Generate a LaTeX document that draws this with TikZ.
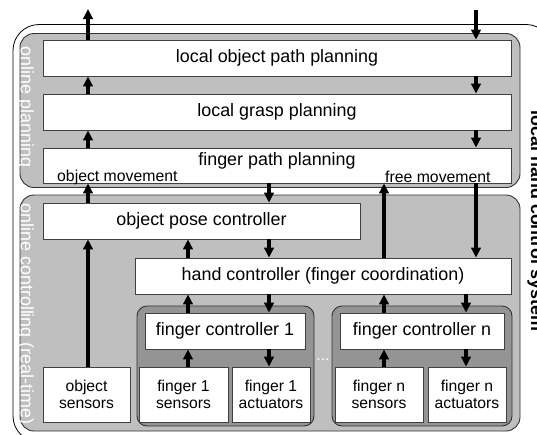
\documentclass[tikz,border=0pt]{standalone}
\usepackage{fontspec}
\setmainfont{Liberation Sans}
\usepackage{tikz}
\usetikzlibrary{arrows.meta, positioning}
\newcommand{\blockfont}{\fontsize{17.9}{19}\selectfont}
\newcommand{\sensorfont}{\fontsize{15.7}{17.5}\selectfont}
\newcommand{\smallfont}{\fontsize{15.8}{17}\selectfont}
\tikzset{
    stage/.style={rectangle, draw=black!80, fill=black!25, rounded corners=14pt, line width=0.9pt},
    group/.style={rectangle, draw=black!80, fill=black!42, rounded corners=10pt, line width=0.9pt, minimum height=120pt},
    block/.style={rectangle, draw=black!75, fill=white, inner sep=0pt, minimum height=36pt, font=\blockfont, line width=0.8pt},
    sensor/.style={rectangle, draw=black!75, fill=white, inner sep=0pt, minimum height=55pt, align=center, font=\sensorfont, line width=0.8pt},
    arrow/.style={-{Triangle[length=10pt,width=9.5pt]}, line width=3.4pt},
    flowlabel/.style={font=\smallfont, inner sep=0pt},
    stagelabel/.style={rotate=-90, text=white, font=\blockfont, inner sep=0pt},
}
\begin{document}
\begin{tikzpicture}[x=1pt, y=-1pt]
        \useasboundingbox (0,0) rectangle (537,434);
        % Outer frame
        \draw [line width=0.8pt, rounded corners=26pt, fill=white] (13,24.5) rectangle (552,442);
        \node [rotate=-90, anchor=base, font=\blockfont\bfseries, inner sep=0pt] (system) at (531,221) {local hand control system};

        % Stages
        \node [stage, minimum width=500pt, minimum height=154pt] (planning) at (270,110.5) {};
        \node [stage, minimum width=500pt, minimum height=236pt] (controlling) at (270,313) {};
        \node [stagelabel] (planninglabel) at (25.5,107) {online planning};
        \node [stagelabel] (controllinglabel) at (25.5,314) {online controlling (real-time)};

        % Planning nodes
        \node [block, minimum width=468pt] (objpath) at (277,58) {local object path planning};
        \node [block, minimum width=468pt] (grasp) at (277,112) {local grasp planning};
        \node [block, minimum width=468pt, minimum height=35pt] (fingerpath) at (277,165.5) {};
        \node [font=\blockfont, inner sep=0pt] (fingerpathtext) at (277,161) {finger path planning};
        \node [flowlabel, anchor=west] (objmove) at (57,177) {object movement};
        \node [flowlabel, anchor=west] (freemove) at (385,176.5) {free movement};

        % Controlling nodes
        \node [block, minimum width=317pt] (posectrl) at (201.5,221) {object pose controller};
        \node [block, minimum width=376pt] (handctrl) at (323,276) {hand controller (finger coordination)};
        \node [group, minimum width=177pt] (group1) at (225.5,366) {};
        \node [group, minimum width=180pt] (groupn) at (422,366) {};
        \node [block, minimum width=160pt] (fingerctrl1) at (225,331) {finger controller 1};
        \node [block, minimum width=164pt] (fingerctrln) at (422,331) {finger controller n};
        \node [sensor, minimum width=87pt] (objsens) at (86.5,394.5) {object\\sensors};
        \node [sensor, minimum width=89pt] (sens1) at (183.5,394.5) {finger 1\\sensors};
        \node [sensor, minimum width=78pt] (act1) at (271,394.5) {finger 1\\actuators};
        \node [sensor, minimum width=88pt] (sensn) at (379,394.5) {finger n\\sensors};
        \node [sensor, minimum width=78pt] (actn) at (467,394.5) {finger n\\actuators};
        \node [text=white, font=\sensorfont, inner sep=0pt] (dots) at (323,360) {...};

        % Columns of the connectors
        \coordinate (objcol) at (88,0);
        \coordinate (freecol) at (476,0);
        \coordinate (downcol) at (269,0);
        \coordinate (upcol) at (188,0);
        \coordinate (freeup) at (384,0);
        \coordinate (fingerdown) at (466,0);
        \coordinate (objout) at (88,9);
        \coordinate (freein) at (476,10);

        % Edges
        \draw [arrow] (objpath.north -| objcol) -- (objout);
        \draw [arrow] (grasp.north -| objcol) -- (objpath.south -| objcol);
        \draw [arrow] (fingerpath.north -| objcol) -- (grasp.south -| objcol);
        \draw [arrow] (posectrl.north -| objcol) -- (fingerpath.south -| objcol);
        \draw [arrow] (objsens.north -| objcol) -- (posectrl.south -| objcol);

        \draw [arrow] (freein) -- (objpath.north -| freecol);
        \draw [arrow] (objpath.south -| freecol) -- (grasp.north -| freecol);
        \draw [arrow] (grasp.south -| freecol) -- (fingerpath.north -| freecol);
        \draw [arrow] (fingerpath.south -| freecol) -- (handctrl.north -| freecol);

        \draw [arrow] (fingerpath.south -| downcol) -- (posectrl.north -| downcol);
        \draw [arrow] (posectrl.south -| downcol) -- (handctrl.north -| downcol);
        \draw [arrow] (handctrl.south -| downcol) -- (fingerctrl1.north -| downcol);
        \draw [arrow] (fingerctrl1.south -| downcol) -- (act1.north -| downcol);

        \draw [arrow] (handctrl.north -| upcol) -- (posectrl.south -| upcol);
        \draw [arrow] (fingerctrl1.north -| upcol) -- (handctrl.south -| upcol);
        \draw [arrow] (sens1.north -| upcol) -- (fingerctrl1.south -| upcol);

        \draw [arrow] (handctrl.north -| freeup) -- (fingerpath.south -| freeup);
        \draw [arrow] (fingerctrln.north -| freeup) -- (handctrl.south -| freeup);
        \draw [arrow] (sensn.north -| freeup) -- (fingerctrln.south -| freeup);

        \draw [arrow] (handctrl.south -| fingerdown) -- (fingerctrln.north -| fingerdown);
        \draw [arrow] (fingerctrln.south -| fingerdown) -- (actn.north -| fingerdown);
    \end{tikzpicture}
\end{document}
